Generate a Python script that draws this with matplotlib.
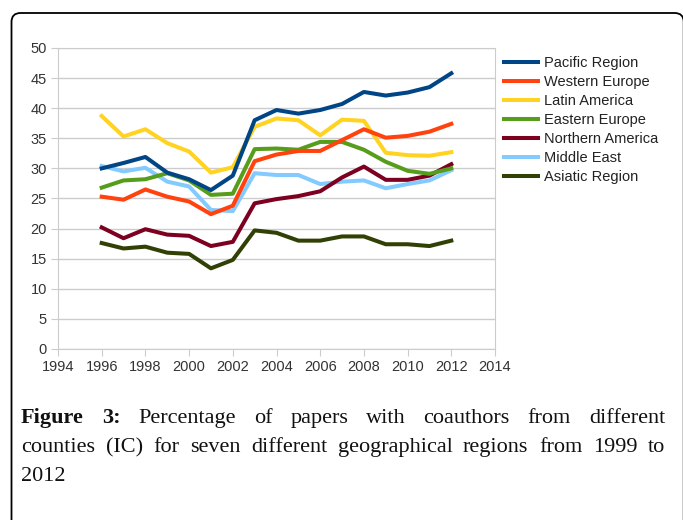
import matplotlib
matplotlib.use("Agg")
import matplotlib.pyplot as plt
from matplotlib.patches import FancyBboxPatch

years = list(range(1996, 2013))

pacific = [30.0, 30.9, 31.9, 29.3, 28.2, 26.4, 28.8, 38.0, 39.7, 39.1, 39.7, 40.7, 42.7, 42.1, 42.6, 43.5, 45.8]
western = [25.3, 24.8, 26.5, 25.3, 24.5, 22.4, 23.8, 31.2, 32.3, 32.9, 32.9, 34.7, 36.5, 35.1, 35.4, 36.1, 37.4]
latin = [38.7, 35.3, 36.5, 34.2, 32.8, 29.3, 30.2, 36.9, 38.3, 38.0, 35.5, 38.1, 37.9, 32.6, 32.2, 32.1, 32.7]
eastern = [26.8, 28.0, 28.2, 29.2, 28.0, 25.6, 25.8, 33.2, 33.3, 33.1, 34.4, 34.4, 33.1, 31.1, 29.6, 29.1, 30.0]
northern = [20.2, 18.4, 19.9, 19.0, 18.8, 17.1, 17.8, 24.2, 24.9, 25.4, 26.2, 28.5, 30.3, 28.1, 28.1, 28.8, 30.7]
middle_east = [30.4, 29.5, 30.1, 27.8, 27.0, 23.1, 22.9, 29.2, 28.9, 28.9, 27.4, 27.8, 28.0, 26.7, 27.4, 28.0, 29.7]
asiatic = [17.6, 16.7, 17.0, 16.0, 15.8, 13.4, 14.8, 19.7, 19.3, 18.0, 18.0, 18.7, 18.7, 17.4, 17.4, 17.1, 18.0]

names = ["Pacific Region", "Western Europe", "Latin America", "Eastern Europe",
         "Northern America", "Middle East", "Asiatic Region"]
colors = ["#004586", "#ff420e", "#ffd320", "#579d1c", "#7e0021", "#83caff", "#314004"]

W, H = 683, 520
fig = plt.figure(figsize=(W / 100, H / 100), dpi=100)

# rounded frame around the whole figure (cut at the bottom and right)
box = FancyBboxPatch((0.115, -0.5), 6.837 - 0.115, 5.07 + 0.5,
                     boxstyle="round,pad=0,rounding_size=0.09",
                     transform=fig.dpi_scale_trans, fill=False, lw=1.3, ec="black")
fig.patches.append(box)

ax = fig.add_axes([58 / W, (H - 349) / H, (495 - 58) / W, (349 - 48) / H])

series = [pacific, western, latin, eastern, northern, middle_east, asiatic]
# draw so that the first series ends on top
for vals, name, c in reversed(list(zip(series, names, colors))):
    ax.plot(years, vals, color=c, lw=2.9, label=name)

ax.set_xlim(1994, 2014)
ax.set_ylim(0, 50)
ax.set_xticks(range(1994, 2015, 2))
ax.set_yticks(range(0, 51, 5))
ax.grid(axis="y", color="#cccccc", lw=1)
ax.set_axisbelow(True)
for s in ax.spines.values():
    s.set_color("#cccccc")
ax.tick_params(colors="#cccccc", labelcolor="#333333", labelsize=10.5, length=5, pad=3)
for lab in ax.get_xticklabels() + ax.get_yticklabels():
    lab.set_family("Liberation Sans")

handles, labels = ax.get_legend_handles_labels()
leg = fig.legend(handles[::-1], labels[::-1], loc="upper left",
                 bbox_to_anchor=(491 / W, 1 - 43 / H), frameon=False,
                 handlelength=2.3, handletextpad=0.45, labelspacing=0.34,
                 prop={"family": "Liberation Sans", "size": 10.5})
for t in leg.get_texts():
    t.set_color("#222222")

# justified caption
renderer = fig.canvas.get_renderer()
x0, x1 = 21, 665
lines = [
    [("Figure", "bold"), ("3:", "bold"), ("Percentage", "normal"), ("of", "normal"),
     ("papers", "normal"), ("with", "normal"), ("coauthors", "normal"), ("from", "normal"),
     ("different", "normal")],
    [(w, "normal") for w in "counties (IC) for seven different geographical regions from 1999 to".split()],
    [("2012", "normal")],
]
ybase = [423, 452, 481]
for words, yb, just in zip(lines, ybase, [True, True, False]):
    texts = []
    for w, weight in words:
        t = fig.text(0, 1 - yb / H, w, fontsize=16, family="Liberation Serif",
                     weight=weight, va="baseline", ha="left", color="#111111")
        texts.append(t)
    widths = [t.get_window_extent(renderer).width for t in texts]
    if just and len(texts) > 1:
        gap = (x1 - x0 - sum(widths)) / (len(texts) - 1)
    else:
        gap = 5
    x = x0
    for t, wd in zip(texts, widths):
        t.set_x(x / W)
        x += wd + gap

fig.savefig("out.png", dpi=100)
